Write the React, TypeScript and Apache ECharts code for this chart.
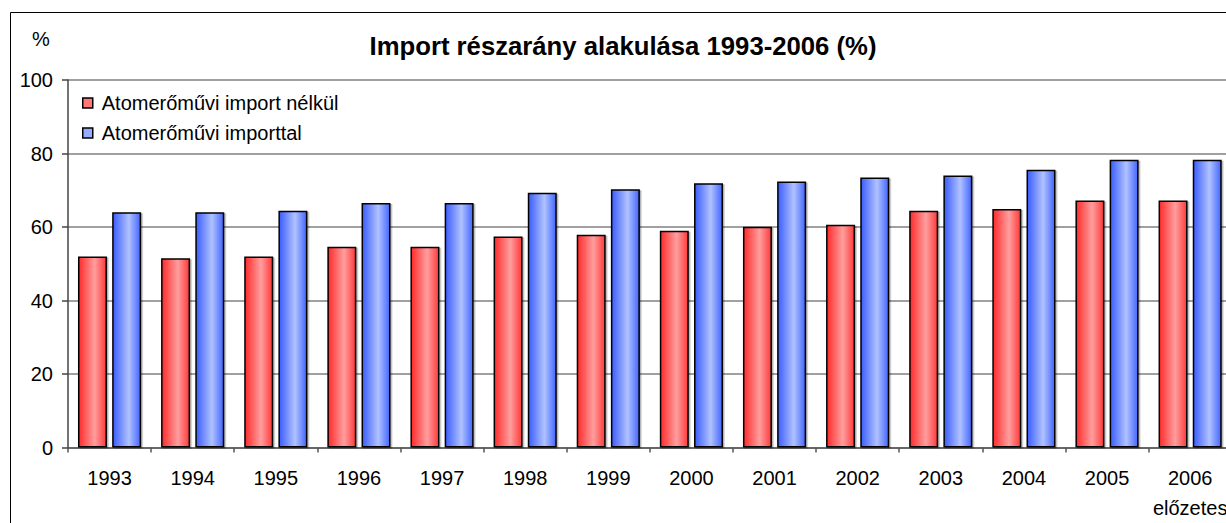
import React, { useEffect, useRef } from "react";
import * as echarts from "echarts";

const categories = ["1993", "1994", "1995", "1996", "1997", "1998", "1999", "2000", "2001", "2002", "2003", "2004", "2005", "2006"];
const withoutNuclear = [52, 51.5, 52, 54.6, 54.6, 57.4, 57.9, 59, 60.1, 60.6, 64.4, 64.9, 67.2, 67.2];
const withNuclear = [64, 64, 64.4, 66.5, 66.5, 69.3, 70.3, 71.9, 72.4, 73.5, 74, 75.6, 78.3, 78.3];
const seriesNames = ["Atomerőművi import nélkül", "Atomerőművi importtal"];
const yTicks = [0, 20, 40, 60, 80, 100];
const titleText = "Import részarány alakulása 1993-2006 (%)";
const preliminaryNote = "előzetes";

const FONT = "'Liberation Sans', Arial, Helvetica, sans-serif";

const grad = (edge: string, mid: string, right: string) =>
  new echarts.graphic.LinearGradient(0, 0, 1, 0, [
    { offset: 0, color: edge },
    { offset: 0.58, color: mid },
    { offset: 1, color: right },
  ]);

export default function App() {
  const ref = useRef<HTMLDivElement>(null);
  useEffect(() => {
    if (!ref.current) return;
    const chart = echarts.init(ref.current, null, { renderer: "svg" });
    const barStyle = {
      borderColor: "#000",
      borderWidth: 1.5,
      shadowColor: "rgba(0,0,0,0.3)",
      shadowOffsetX: 1.5,
      shadowOffsetY: 1,
      shadowBlur: 0,
    };
    chart.setOption({
      animation: false,
      backgroundColor: "#fff",
      title: {
        text: titleText,
        left: 618,
        textAlign: "center",
        top: 28,
        padding: 5,
        textStyle: { fontFamily: FONT, fontSize: 25.7, fontWeight: "bold", color: "#000" },
      },
      legend: {
        orient: "vertical",
        left: 77,
        top: 88,
        itemGap: 10,
        itemWidth: 10,
        itemHeight: 10,
        icon: "rect",
        textStyle: { fontFamily: FONT, fontSize: 20, color: "#000", lineHeight: 20, padding: [0, 0, 0, 4] },
        data: [
          { name: seriesNames[0], itemStyle: { color: "#ff7878", borderColor: "#000", borderWidth: 1.5 } },
          { name: seriesNames[1], itemStyle: { color: "#98acff", borderColor: "#000", borderWidth: 1.5 } },
        ],
      },
      grid: { left: 68, right: 8.3, top: 80, bottom: 75.5, containLabel: false },
      xAxis: {
        type: "category",
        data: categories,
        axisLine: { lineStyle: { color: "#555", width: 1.5 } },
        axisTick: { show: true, length: 5, lineStyle: { color: "#555", width: 1.5 } },
        axisLabel: {
          margin: 18,
          formatter: (v: string) => (v === "2006" ? `{a|${v}}\n{b|${preliminaryNote}}` : `{a|${v}}`),
          rich: {
            a: { fontFamily: FONT, fontSize: 20, color: "#000", lineHeight: 24 },
            b: { fontFamily: FONT, fontSize: 20, color: "#000", lineHeight: 36 },
          },
        },
      },
      yAxis: {
        type: "value",
        min: 0,
        max: 100,
        interval: 20,
        axisLine: { show: true, lineStyle: { color: "#444", width: 1.5 } },
        axisTick: { show: true, length: 6, lineStyle: { color: "#444", width: 1.5 } },
        axisLabel: {
          margin: 15,
          fontFamily: FONT,
          fontSize: 20,
          color: "#000",
          formatter: (v: number) => (yTicks.includes(v) ? String(v) : ""),
        },
        splitLine: { show: true, lineStyle: { color: "#808080", width: 1.5 } },
      },
      graphic: [
        {
          type: "rect",
          shape: { x: 10.5, y: 12.5, width: 1400, height: 700 },
          style: { fill: "none", stroke: "#000", lineWidth: 1 },
          silent: true,
        },
        {
          type: "text",
          x: 41,
          y: 39,
          style: { text: "%", fontFamily: FONT, fontSize: 20, fill: "#000", align: "center", verticalAlign: "middle" },
        },
      ],
      series: [
        {
          name: seriesNames[0],
          type: "bar",
          data: withoutNuclear,
          barGap: "18%",
          barCategoryGap: "24%",
          itemStyle: { color: grad("#ff2a2a", "#ff9e9e", "#ff3a3a"), ...barStyle },
        },
        {
          name: seriesNames[1],
          type: "bar",
          data: withNuclear,
          barGap: "18%",
          barCategoryGap: "24%",
          itemStyle: { color: grad("#3a5cff", "#b0c2ff", "#4466ff"), ...barStyle },
        },
      ],
    });
    return () => chart.dispose();
  }, []);
  return (
    <div style={{ position: "fixed", left: 0, top: 0, width: 1226, height: 523, overflow: "hidden", background: "#fff" }}>
      <div ref={ref} style={{ width: 1240, height: 523 }} />
    </div>
  );
}
